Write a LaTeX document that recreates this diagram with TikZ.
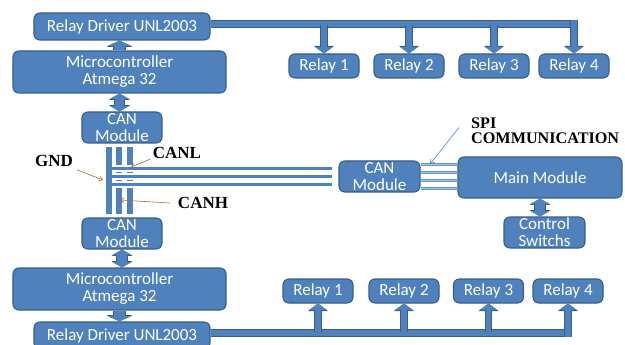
\documentclass[tikz,border=0pt]{standalone}
\usepackage{fontspec}
\setmainfont{Liberation Serif}
\newfontfamily\boxfont{Carlito}
\usetikzlibrary{arrows.meta,positioning,calc}
\definecolor{boxblue}{RGB}{79,129,189}
\definecolor{boxedge}{RGB}{56,93,138}
\definecolor{tagbrown}{RGB}{184,98,44}
\definecolor{spiblue}{RGB}{170,196,228}
\tikzset{
  blockbox/.style={draw=boxedge, fill=boxblue, line width=0.9pt,
    rounded corners=5pt, text=white, align=center, inner sep=0pt,
    font=\boxfont\fontsize{14.5}{14.5}\selectfont},
  relaybox/.style={blockbox, minimum width=2.1cm, minimum height=0.72cm},
  canbox/.style={blockbox, minimum width=2.4cm, minimum height=0.93cm},
  mcubox/.style={blockbox, minimum width=6.39cm, minimum height=1.26cm},
  driverbox/.style={blockbox, minimum width=5.28cm, minimum height=0.81cm},
  fatarr/.style={draw=boxblue, line width=9pt, -{Triangle[length=4.5pt,width=20pt]},
    preaction={draw=boxedge, line width=10.5pt, -{Triangle[length=5.5pt,width=22pt]}}},
  fatdbl/.style={draw=boxblue, line width=8pt,
    {Triangle[length=4.5pt,width=16pt]}-{Triangle[length=4.5pt,width=16pt]},
    preaction={draw=boxedge, line width=9.5pt,
      {Triangle[length=5.5pt,width=18pt]}-{Triangle[length=5.5pt,width=18pt]}}},
  relarr/.style={draw=boxblue, line width=5pt, -{Triangle[length=5.5pt,width=15pt]},
    preaction={draw=boxedge, line width=6.5pt, -{Triangle[length=6.5pt,width=17pt]}}},
  busbar/.style={draw=boxblue, line width=5pt,
    preaction={draw=boxedge, line width=6.5pt}},
  canwire/.style={draw=boxblue, line width=5pt},
  canhwire/.style={draw=boxblue, line width=3.4pt,
    preaction={draw=white, line width=5.5pt}},
  spiwire/.style={draw=boxblue!85, double=spiblue, double distance=0.9pt, line width=0.45pt},
  tagtext/.style={font=\bfseries\fontsize{14.5}{13}\selectfont, inner sep=0pt},
  tagarr/.style={draw=tagbrown, line width=0.5pt, -{Straight Barb[length=3pt,width=4pt]}},
  spiarr/.style={draw=boxblue, line width=0.5pt, -{Straight Barb[length=3.5pt,width=4.5pt]}},
}
\begin{document}
\begin{tikzpicture}[x=0.03cm, y=-0.03cm]
  \useasboundingbox (0,0) rectangle (625,345);

  % Upper node
  \node[driverbox] (rda) at (122,26.5) {Relay Driver UNL2003};
  \node[mcubox] (mca) at (119.5,72) {Microcontroller\\Atmega 32};
  \node[canbox] (cana) at (122,127.5) {CAN\\Module};
  \node[relaybox] (ra1) at (324,66) {Relay 1};
  \node[relaybox] (ra2) at (409,66) {Relay 2};
  \node[relaybox] (ra3) at (494,66) {Relay 3};
  \node[relaybox] (ra4) at (574,66) {Relay 4};

  % Lower node
  \node[canbox] (canb) at (122,233.5) {CAN\\Module};
  \node[mcubox] (mcb) at (119.5,289) {Microcontroller\\Atmega 32};
  \node[driverbox] (rdb) at (122,335.5) {Relay Driver UNL2003};
  \node[relaybox] (rb1) at (318,291) {Relay 1};
  \node[relaybox] (rb2) at (404,291) {Relay 2};
  \node[relaybox] (rb3) at (488.5,291) {Relay 3};
  \node[relaybox] (rb4) at (568,291) {Relay 4};

  % Main node
  \node[canbox, minimum width=2.43cm] (canm) at (379.5,176.5) {CAN\\Module};
  \node[blockbox, minimum width=4.92cm, minimum height=1.23cm] (mainm) at (540,177.5) {Main Module};
  \node[canbox, minimum width=2.43cm] (ctrl) at (544.5,232.5) {Control\\Switchs};

  % Block arrows
  \draw[fatarr] (mca.north) -- (mca.north |- rda.south);
  \draw[fatdbl] (mca.south) -- (mca.south |- cana.north);
  \draw[fatdbl] (canb.south) -- (canb.south |- mcb.north);
  \draw[fatarr] (mcb.south) -- (mcb.south |- rdb.north);
  \draw[fatdbl] (mainm.south) -- (mainm.south |- ctrl.north);

  % Relay buses
  \coordinate (busa) at (0,24);
  \coordinate (busb) at (0,333);
  \draw[busbar] (rda.east |- busa) -- (ra4.north |- busa);
  \foreach \r in {ra1,ra2,ra3}
    \draw[relarr] ($(\r.north |- busa)+(0,1)$) -- (\r.north);
  \draw[relarr] ($(ra4.north |- busa)+(0,-3.5)$) -- (ra4.north);
  \draw[busbar] (rdb.east |- busb) -- (rb4.south |- busb);
  \foreach \r in {rb1,rb2,rb3}
    \draw[relarr] ($(\r.south |- busb)+(0,-1)$) -- (\r.south);
  \draw[relarr] ($(rb4.south |- busb)+(0,3.5)$) -- (rb4.south);

  % CAN bus
  \foreach \dx in {-13,-3,8}
    \draw[canwire] ($(cana.south)+(\dx,3)$) -- ($(canb.north)+(\dx,-3)$);
  \coordinate (busleft) at (112,0);
  \foreach \dy in {-8,0,8} {
    \coordinate (hw) at ($(canm.west)+(-6,\dy)$);
    \draw[canhwire] (hw) -- (hw -| busleft);
  }

  % SPI lines
  \foreach \dy in {-12,-4,4,12} {
    \coordinate (sw) at ($(canm.east)+(0,\dy)$);
    \draw[spiwire] (sw) -- (sw -| mainm.west);
  }

  % Labels
  \node[tagtext, anchor=west] (gnd) at (35,161) {GND};
  \node[tagtext] (canl) at (177,153) {CANL};
  \node[tagtext] (canh) at (203,203) {CANH};
  \node[tagtext, font=\bfseries\fontsize{13.8}{13}\selectfont, anchor=west, align=left]
    (spi) at (471,130.5) {SPI\\COMMUNICATION};
  \coordinate (gndtip) at (103,180);
  \coordinate (canltip) at (131,167);
  \coordinate (canhtip) at (120,200);
  \coordinate (spitip) at (430,164);
  \draw[tagarr] ([shift={(4,3)}]gnd.south east) -- (gndtip);
  \draw[tagarr] ([shift={(-2,0)}]canl.south west) -- (canltip);
  \draw[tagarr] ([shift={(-8,0)}]canh.west) -- (canhtip);
  \draw[spiarr] ([shift={(-12,-3)}]spi.west) -- (spitip);
\end{tikzpicture}
\end{document}
